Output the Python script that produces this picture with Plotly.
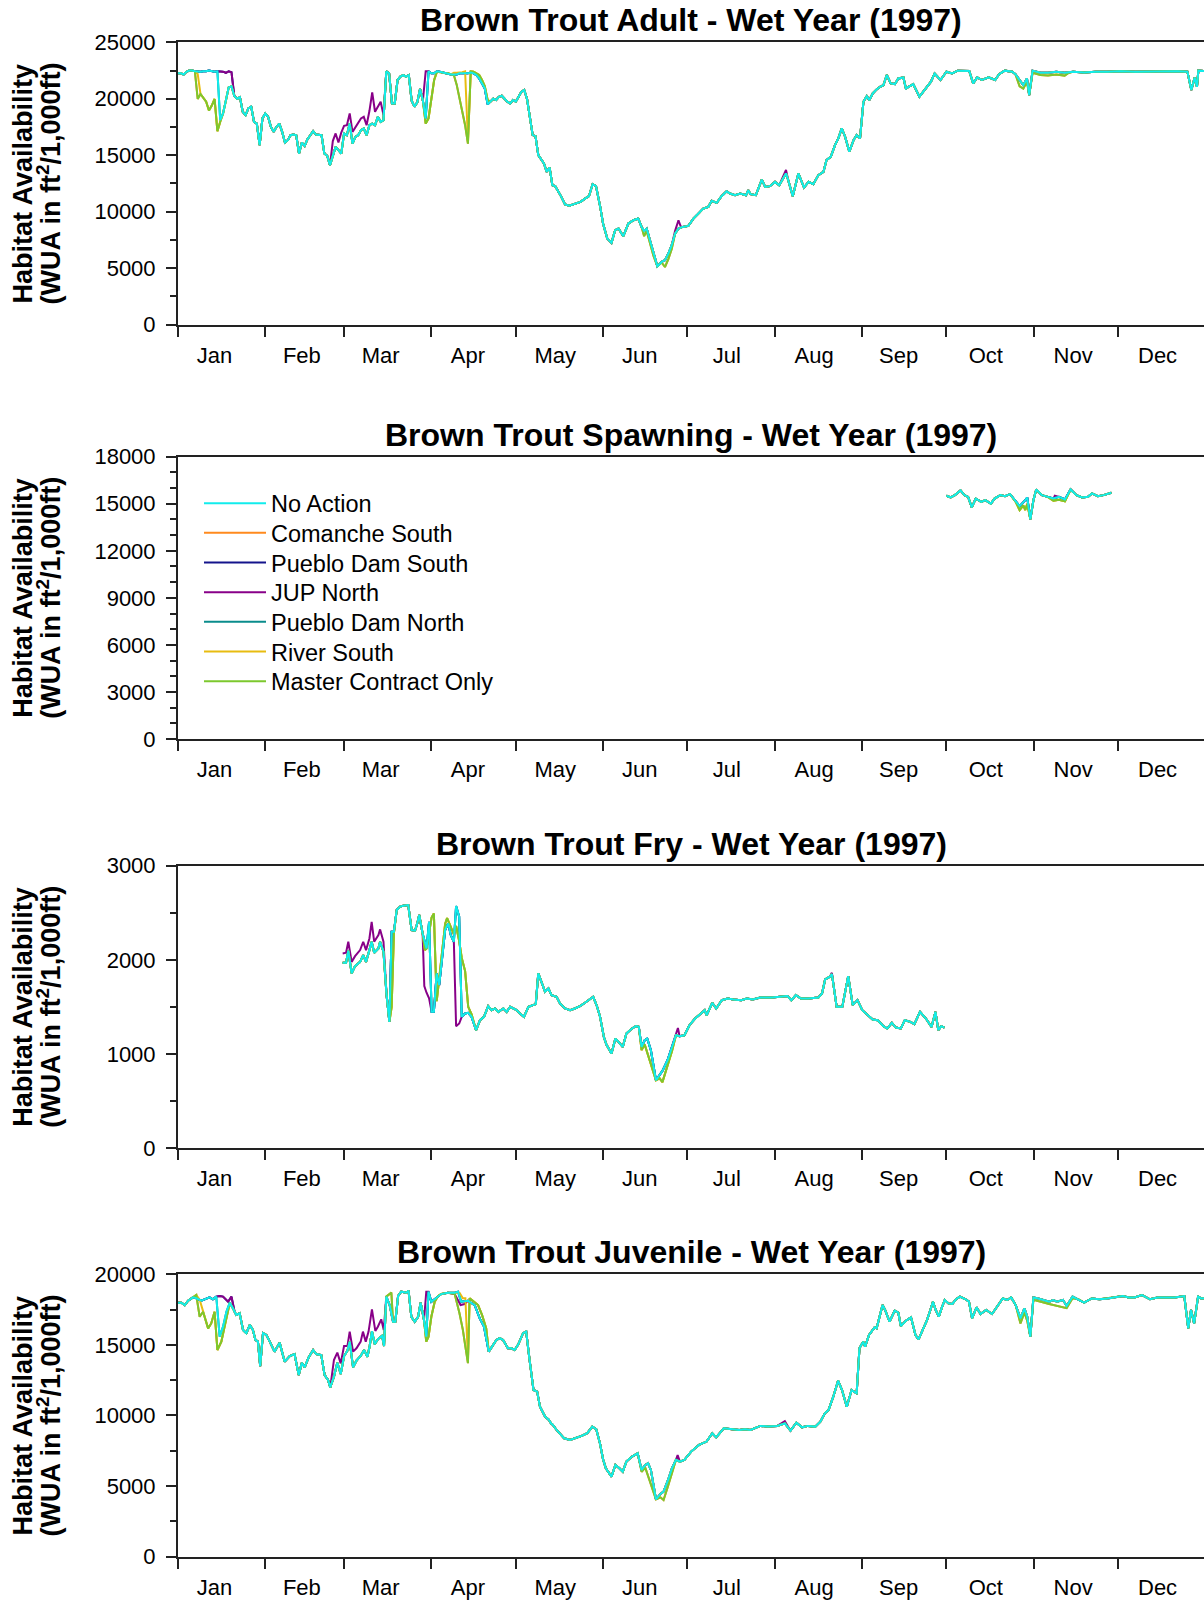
import numpy as np
import pandas as pd
import plotly.graph_objects as go
from plotly.subplots import make_subplots

# ---------------- data (day-of-year index, 0 = 1 Jan 1997) ----------------
SCENARIOS = ["No Action", "Comanche South", "Pueblo Dam South", "JUP North",
             "Pueblo Dam North", "River South", "Master Contract Only"]
COLORS = {"No Action": "#12ECEC", "Comanche South": "#FF8A1E", "Pueblo Dam South": "#14148C",
          "JUP North": "#880088", "Pueblo Dam North": "#0A8C8C", "River South": "#E8BC10",
          "Master Contract Only": "#7CC82E"}
DRAW_ORDER = ["Comanche South", "Pueblo Dam South", "JUP North", "Pueblo Dam North",
              "River South", "Master Contract Only", "No Action"]
TITLES = ["Brown Trout Adult - Wet Year (1997)", "Brown Trout Spawning - Wet Year (1997)",
          "Brown Trout Fry - Wet Year (1997)", "Brown Trout Juvenile - Wet Year (1997)"]
MONTH_LABEL_DATES = ["1997-01-14", "1997-02-14", "1997-03-14", "1997-04-14", "1997-05-15", "1997-06-14",
                     "1997-07-15", "1997-08-15", "1997-09-14", "1997-10-15", "1997-11-15", "1997-12-15"]
Y_MAX = [25000, 18000, 3000, 20000]
Y_DTICK = [5000, 3000, 1000, 5000]
Y_MINOR = [2500, 1000, 500, 2500]

# ---- Adult ----
ADULT_DAYS = [0, 1, 2, 3, 4, 5, 6, 7, 8, 9, 10, 11, 12, 13, 14, 15, 16, 17, 18, 19, 20, 21, 22, 23, 24, 25,
              26, 27, 28, 29, 30, 31, 32, 33, 34, 35, 36, 37, 38, 39, 40, 41, 42, 43, 44, 45, 46, 47, 48, 49,
              50, 51, 52, 53, 54, 55, 56, 57, 58, 59, 60, 61, 62, 63, 64, 65, 66, 67, 68, 69, 70, 71, 72, 73,
              74, 75, 76, 77, 78, 79, 80, 81, 82, 83, 84, 85, 86, 87, 88, 89, 90, 91, 92, 93, 94, 95, 96, 97,
              98, 99, 100, 101, 102, 103, 104, 105, 106, 107, 108, 109, 110, 111, 112, 113, 114, 115, 116,
              117, 118, 119, 120, 121, 122, 123, 124, 126, 127, 128, 130, 131, 132, 133, 134, 136, 137.5,
              139, 141, 143, 144.6, 146, 147.3, 148.5, 150, 151, 152.5, 154, 155.3, 156.5, 158.2, 160,
              161.8, 163.5, 164.7, 165.6, 166.5, 167.7, 168.9, 170.3, 171.8, 173, 174.2, 175.4, 176.6,
              177.8, 179.3, 181.3, 183.1, 184.9, 186.6, 188.4, 189.6, 191.4, 193.1, 194.9, 196.1, 197.9,
              199.7, 201.8, 202.6, 203.4, 205.3, 207.4, 208.6, 210.3, 212.1, 213.6, 216, 216.8, 218.4,
              220.4, 222.4, 224, 225.7, 227.5, 229.3, 230.4, 231.9, 233.4, 234.6, 235.8, 237, 238.5, 240,
              241.1, 242.3, 243.5, 244.7, 245.6, 246.8, 248.2, 249.4, 250.6, 251.8, 253.2, 254.7, 255.9,
              257.7, 258.6, 260, 261.2, 263.4, 265.4, 267.5, 268.8, 270.9, 273, 275, 277, 281.1, 282.5,
              283.9, 285.6, 288, 290.3, 291.7, 293.7, 296.4, 297.5, 300.3, 301.6, 302.4, 303.6, 306.4,
              309.1, 312, 315, 318, 322, 326, 330, 335, 340, 345, 350, 355, 358.6, 360, 361.2, 362, 362.5,
              364.5]
ADULT_NO_ACTION = [22250, 22250, 22150, 22390, 22500, 22500, 22430, 22390, 22390, 22430, 22430, 22500, 22430,
                   22390, 22430, 18110, 18700, 19830, 21000, 21100, 20250, 20000, 20130, 18850, 18550, 19150,
                   19300, 17960, 17800, 15890, 18260, 18700, 18400, 17510, 17070, 17510, 17800, 17070, 16120,
                   16330, 16770, 16830, 16770, 15150, 16120, 15830, 16420, 16770, 17130, 16830, 16770, 16770,
                   15150, 14950, 14120, 14860, 15740, 15450, 15150, 16930, 16770, 17800, 16030, 16620, 16770,
                   17210, 17360, 16770, 17660, 17800, 17660, 18400, 17960, 18110, 22430, 22250, 19590, 19590,
                   21660, 21960, 22100, 21960, 22100, 19830, 19300, 19680, 20870, 19830, 18260, 22430, 22250,
                   22250, 22430, 22390, 22330, 22250, 22250, 22150, 22150, 22150, 22250, 22250, 22250, 22250,
                   22330, 22250, 22100, 21800, 21360, 20900, 19500, 19740, 20000, 19890, 20180, 20270, 20000,
                   19740, 19590, 19890, 19740, 20180, 20620, 20770, 19980, 16780, 16690, 15010, 14280, 13530,
                   13910, 12350, 12260, 11400, 10640, 10520, 10670, 10870, 11160, 11370, 12430, 12260, 10430,
                   8950, 7620, 7240, 8360, 8510, 7830, 8950, 9240, 9390, 8650, 8300, 8510, 7470, 6290, 5170,
                   5550, 5700, 6290, 7030, 8060, 8510, 8650, 8740, 9390, 9830, 10270, 10430, 10960, 10780,
                   11370, 11810, 11610, 11460, 11610, 11460, 11900, 11550, 11460, 12840, 12190, 12260, 12640,
                   12340, 13390, 12790, 11370, 13390, 12140, 12640, 12430, 13240, 13530, 14570, 14860, 15900,
                   16490, 17380, 16640, 15320, 16340, 16780, 16490, 19730, 20230, 19880, 20470, 20830, 21060,
                   21200, 22100, 21360, 21300, 21800, 21890, 20910, 21130, 21300, 20180, 20840, 21510, 22240,
                   21660, 22390, 22240, 22490, 22460, 21360, 21890, 21660, 21890, 21660, 22170, 22490, 22390,
                   22170, 21210, 21800, 20330, 22490, 22300, 22300, 22400, 22300, 22400, 22330, 22400, 22390,
                   22430, 22400, 22430, 22400, 22430, 22400, 20770, 21890, 21060, 22490, 22450]
ADULT_MASTER = [([6, 7, 8, 9, 10, 11, 12, 13, 14, 15, 16, 17],
                 [22430, 19980, 20420, 20130, 19740, 18960, 19400, 19980, 17130, 17960, 18700, 19830]),
                ([87, 88, 89, 90, 91, 92], [19830, 17800, 18260, 20000, 21660, 22390]),
                ([98, 99, 100, 101, 102, 103, 104, 105, 106, 107, 108, 109, 110],
                 [22100, 21250, 19980, 18960, 17660, 16030, 22430, 22390, 22250, 22100, 21660, 21100, 19890]),
                ([165.6, 166.5, 167.7, 168.9, 170.3, 171.8, 173, 174.2, 175.4],
                 [7830, 8300, 7300, 6100, 5170, 5500, 5100, 5800, 6700]),
                ([299, 300.3, 301.6, 302.4, 303.6, 306.4, 309.1, 312, 315, 316.5],
                 [21100, 20900, 21500, 20330, 22300, 22100, 22050, 22150, 22050, 22300])]
ADULT_RIVER = [([6, 7, 8, 9, 10, 11, 12, 13, 14, 15, 16, 17],
                [22430, 22200, 20420, 20130, 19740, 18960, 19400, 19980, 17130, 17960, 18700, 19830]),
               ([87, 88, 89, 90, 91, 92], [19830, 17800, 18260, 20000, 21660, 22390]),
               ([98, 99, 100, 101, 102, 103, 104, 105, 106, 107, 108, 109, 110],
                [22300, 22300, 22300, 22350, 22430, 16300, 22430, 22390, 22250, 22100, 21660, 21100, 19890])]
ADULT_JUP = [([14, 15, 16, 17, 18, 19, 20], [22430, 22430, 22400, 22300, 22430, 22350, 20250]),
             ([55, 56, 57, 58, 59, 60, 61, 62, 63, 64, 65, 66, 67, 68, 69, 70, 71, 72, 73],
              [16250, 16930, 16120, 17000, 17600, 17660, 18700, 17070, 17430, 17800, 18260, 18400, 17660,
               18910, 20560, 18850, 19300, 19740, 18550]),
             ([87, 88], [19830, 22430]),
             ([176.6, 177.8, 178.6], [8300, 9240, 8700]),
             ([216], [13700])]
ADULT_PDS = [([14, 15, 16, 17, 18, 19, 20], [22430, 22430, 22400, 22300, 22430, 22350, 20250])]

# ---- Spawning ----
SPAWN_DAYS = [273, 274.5, 276, 278, 279.4, 280.7, 282, 283.4, 285.4, 286.8, 288.8, 290.1, 292.2, 293.8,
              295.6, 297.6, 299, 301, 301.7, 302.8, 303.9, 304.9, 306.9, 309, 311, 313, 315.1, 317.1,
              319.2, 321.2, 323.3, 324.7, 326.8, 328.8, 331.6]
SPAWN_NO_ACTION = [15510, 15400, 15550, 15850, 15550, 15440, 14765, 15330, 15120, 15230, 15010, 15330, 15550,
                   15480, 15610, 15120, 14850, 15230, 15400, 14000, 15230, 15910, 15550, 15440, 15330, 15440,
                   15270, 15910, 15550, 15400, 15440, 15660, 15480, 15550, 15700]
SPAWN_MASTER = [([299, 300.3, 301, 301.7], [14590, 14900, 14600, 15000]),
                ([311, 313, 315.1], [15200, 15250, 15150])]
SPAWN_JUP = [([311, 311.5, 313], [15330, 15520, 15440])]

# ---- Fry ----
FRY_DAYS = [58.5, 59.7, 60.5, 61.7, 62.9, 64.7, 65.8, 66.8, 68, 68.8, 69.7, 71.2, 71.8, 73, 74.1, 75.1, 75.9,
            76.7, 77.7, 78.9, 80, 81.8, 83, 84.2, 85, 85.7, 86.9, 88.3, 89.2, 90.1, 90.9, 91.9, 92.8, 94, 94.9,
            96, 96.9, 98, 98.8, 99.9, 100.8, 102, 103.1, 104.3, 105.9, 107.3, 108.7, 110.2, 111.4, 112.6,
            113.8, 115.6, 116.8, 118, 119.1, 120.3, 121.5, 122.9, 124.5, 126, 127.1, 128, 129.2, 130.4,
            131.6, 132.7, 134.5, 135.7, 137.5, 139.3, 141, 142.8, 144.6, 146.4, 147.5, 148.7, 149.9, 151.3,
            152.2, 154, 155.4, 156.5, 158, 159.3, 161.3, 162.7, 163.7, 164.7, 165.8, 166.7, 168, 169.8,
            171.1, 172.1, 173.9, 175.5, 176.9, 178.2, 179.9, 181.7, 183.7, 185.8, 187.1, 187.8, 189.8,
            191.2, 193.2, 195.3, 197.3, 200.1, 202.1, 204.2, 206.9, 211, 215.1, 216.5, 217.9, 219.5, 221.3,
            224, 227.5, 228.8, 229.9, 231.6, 232.3, 234, 236, 238.1, 239.7, 241.4, 243.1, 244.9, 246.8,
            248.6, 250.6, 252, 253.6, 255, 256.8, 258.2, 260.2, 261.6, 263.6, 265.7, 267.7, 269.1, 270.1,
            271.2, 272.3]
FRY_NO_ACTION = [1968, 1968, 2096, 1855, 1932, 1978, 2050, 1978, 2103, 2192, 2075, 2121, 2192, 2085, 1624,
                 1340, 2298, 2298, 2529, 2565, 2575, 2581, 2316, 2309, 2387, 2476, 2280, 2121, 2404, 1447,
                 1447, 1855, 1731, 2068, 2316, 2387, 2263, 2192, 2571, 2458, 1394, 1430, 1437, 1394, 1252,
                 1359, 1394, 1508, 1465, 1483, 1447, 1483, 1447, 1501, 1483, 1465, 1430, 1394, 1501, 1519,
                 1529, 1855, 1749, 1660, 1696, 1624, 1607, 1536, 1483, 1465, 1483, 1508, 1543, 1589, 1607,
                 1519, 1400, 1180, 1100, 1003, 1163, 1128, 1074, 1216, 1270, 1295, 1287, 1074, 1145, 1163,
                 1039, 720, 773, 819, 932, 1074, 1198, 1188, 1198, 1305, 1376, 1429, 1465, 1411, 1543, 1483,
                 1571, 1589, 1578, 1571, 1589, 1578, 1600, 1600, 1607, 1614, 1571, 1625, 1589, 1589, 1600,
                 1642, 1791, 1820, 1848, 1500, 1500, 1827, 1518, 1571, 1465, 1411, 1365, 1358, 1295, 1270,
                 1330, 1280, 1270, 1358, 1340, 1316, 1447, 1376, 1287, 1447, 1252, 1295, 1280]
FRY_MASTER = [([75.1, 75.9, 76.7], [1340, 1500, 2280]),
              ([86.9, 87.7, 88.3, 89.2, 90.1, 90.9, 91.9, 92.8, 94, 94.9, 95.6, 96.9, 98, 98.8, 99.9, 100.8,
                102, 103.1, 104.3, 105.9],
               [2280, 2103, 2120, 2300, 2450, 2493, 1560, 1800, 2100, 2380, 2444, 2340, 2270, 2360, 2200,
                2020, 1880, 1500, 1420, 1252]),
              ([164.7, 165.8, 169.8, 171.1, 172.1, 173.9, 175.5], [1040, 1100, 720, 740, 700, 880, 1030])]
FRY_JUP = [([58.5, 59.7, 60.5, 61.7, 62.9, 64.7, 65.8, 66.8, 68, 68.8, 69.7, 71.2, 71.8, 73, 74.1],
            [2068, 2075, 2192, 1978, 2039, 2103, 2192, 2103, 2227, 2404, 2192, 2263, 2323, 2192, 1624]),
           ([86.9, 87.5, 88.3, 89.2, 90.1], [2280, 1720, 1650, 1590, 1447]),
           ([98, 98.8, 99.9, 100.8], [2192, 1295, 1323, 1394]),
           ([176.9, 177.6, 178.2], [1198, 1275, 1188]),
           ([232.3], [1862])]

# ---- Juvenile ----
JUV_DAYS = [0, 1.2, 2.4, 3.6, 5.3, 6.5, 8.3, 10, 11.2, 12.4, 13.6, 14.8, 16, 17.2, 18.4, 19.5, 20.7, 21.9,
            23.1, 24.3, 25.5, 26.6, 27.5, 28.4, 29.2, 30.2, 31.4, 32.6, 34.3, 36.1, 37.9, 39.7, 41.4, 42.9,
            44, 45, 46.4, 48, 49.1, 50.9, 52.1, 53.3, 54.1, 55.4, 56.6, 57.8, 59, 60.2, 61, 62.2, 63.4, 64.9,
            66.1, 67.3, 68.1, 68.9, 69.9, 71, 72.5, 73.2, 74, 75.2, 76.4, 77.2, 78.2, 79.3, 81.1, 81.9, 82.9,
            84.1, 85.3, 86.2, 87.4, 88.2, 89, 90, 91.8, 93.5, 95.9, 98.3, 99.5, 100.6, 103, 105.4, 107.2,
            108.7, 110.4, 111.9, 113.1, 114.3, 115.5, 117.2, 118.4, 119.6, 120.8, 122.6, 123.7, 124.9, 126.3,
            127.6, 128.6, 130.4, 131.8, 132.5, 133.2, 134.5, 137.2, 139.3, 141.3, 143.4, 145.4, 147.2,
            148.6, 149.9, 151, 152, 154, 155.4, 156.8, 158, 159.3, 161.3, 163.3, 164.7, 166, 167, 168,
            169.8, 171.4, 172.5, 174.1, 175.5, 176.9, 178.3, 179.9, 182.3, 185.1, 187.8, 189.8, 191.2,
            193.9, 196.6, 199.4, 201.4, 203.4, 206.9, 209.6, 212.9, 215.6, 217.6, 219.7, 221.7, 223.8,
            226.4, 228.2, 229.8, 231.1, 232.8, 234.5, 235.9, 237.6, 239.3, 240.6, 241.1, 242.1, 243.4,
            244.1, 245.5, 247.5, 248.2, 250.3, 251.2, 252.8, 254.6, 255.9, 256.8, 258.6, 260.4, 262, 263.1,
            264.8, 266.1, 267.2, 268.2, 269.2, 270.3, 271.4, 272.4, 273.7, 275.1, 276.4, 277.8, 279.8, 281,
            282.1, 283.7, 285.1, 287.1, 289.2, 291.2, 293, 294.6, 296, 297.6, 299.3, 300.7, 301.7, 302.8,
            303.9, 305.6, 307.5, 309.5, 310.9, 312.3, 314.4, 315.7, 317.8, 319.9, 321.9, 324.6, 327.4,
            330.2, 332.9, 335.7, 337.7, 339.8, 342.5, 345.3, 348, 350.7, 354.1, 357.5, 358.9, 359.9, 361,
            362.4, 363.5, 364.5]
JUV_NO_ACTION = [17990, 17990, 17820, 18130, 18370, 18300, 18130, 18300, 18370, 18230, 18420, 15580, 16290,
                 17350, 17990, 17590, 17120, 17240, 16060, 15830, 16420, 16060, 15350, 15230, 13500, 15830,
                 15700, 15230, 14520, 15160, 13810, 14210, 14350, 12860, 13740, 13410, 14110, 14640, 14350,
                 14280, 12860, 12510, 11990, 12740, 13740, 12930, 14210, 14590, 15230, 13410, 13880, 14210,
                 14640, 14160, 14920, 15960, 15040, 15400, 15640, 14920, 18420, 17820, 16640, 16640, 18470,
                 18770, 18700, 18840, 16990, 16640, 16990, 17990, 16760, 15580, 18770, 18060, 18370, 18600,
                 18700, 18700, 18770, 18060, 18130, 17820, 16880, 16290, 14520, 15000, 15350, 15470, 15350,
                 14760, 14760, 14640, 15000, 15830, 15940, 13930, 11800, 11690, 10620, 9920, 9680, 9440, 9330,
                 8970, 8380, 8260, 8380, 8550, 8740, 9210, 9020, 8030, 6900, 6260, 5670, 6490, 6260, 6020,
                 6730, 7090, 7320, 6140, 6490, 6610, 6140, 4060, 4440, 4610, 5430, 6260, 6850, 6730, 6850,
                 7440, 7910, 8150, 8740, 8450, 9090, 9020, 8970, 9020, 8970, 9260, 9210, 9260, 9440, 8920,
                 9490, 9160, 9260, 9210, 9560, 10150, 10380, 11330, 12460, 11800, 10620, 11800, 11610, 11570,
                 14760, 15230, 14880, 15700, 16240, 16170, 17820, 17470, 16650, 17420, 17280, 16340, 16710,
                 16950, 15700, 15390, 16170, 16760, 17420, 18060, 17470, 17000, 17660, 18180, 17940, 17900,
                 18230, 18420, 18230, 18060, 16880, 17660, 17190, 17470, 17190, 17820, 18290, 18180, 18360,
                 17820, 16880, 17590, 17000, 15580, 18360, 18290, 18180, 18060, 18180, 18060, 18180, 17760,
                 18420, 18230, 18000, 18290, 18230, 18290, 18360, 18460, 18360, 18360, 18530, 18230, 18360,
                 18360, 18360, 18460, 16170, 17470, 16520, 18420, 18290, 18300]
JUV_MASTER = [([5.3, 6.5, 7.7, 8.9, 10.7, 11.8, 13, 14, 15.4, 16.5, 17.8],
               [18370, 18530, 16990, 17350, 16170, 16520, 17350, 14640, 15230, 16300, 17600]),
              ([74, 75.8, 76.4], [18420, 18700, 16640]),
              ([87.4, 88.2, 89, 90, 91.2, 92.4, 93.5], [16760, 15230, 15580, 16990, 18060, 18470, 18600]),
              ([98.3, 100, 101.2, 102.1, 103, 103.6, 104.8, 106.6, 108, 109.5, 110.4],
               [18600, 17240, 16060, 14880, 13700, 18300, 18130, 17820, 17120, 16170, 14520]),
              ([164.7, 166, 169.8, 171.4, 172.5, 174.1, 175.5], [6000, 6300, 4060, 4200, 4010, 5000, 6000]),
              ([297.6, 299.3, 300.7, 301.7, 302.8, 303.9, 309.5, 312.3, 315.7, 317.8],
               [17820, 16520, 17300, 16700, 15580, 18200, 17900, 17760, 17600, 18300])]
JUV_RIVER = [([5.3, 6.5, 7.7, 8.9, 10.7, 11.8, 13, 14, 15.4, 16.5, 17.8],
              [18370, 18530, 18200, 17350, 16170, 16520, 17350, 14640, 15230, 16300, 17600]),
             ([87.4, 88.2, 89, 90, 91.2, 92.4, 93.5], [16760, 15230, 15580, 16990, 18060, 18470, 18600]),
             ([98.3, 100, 101.2, 102.1, 103, 103.6, 104.8, 106.6, 108, 109.5, 110.4],
              [18700, 18700, 18300, 18300, 14000, 18300, 18130, 17820, 17120, 16170, 14520])]
JUV_JUP = [([13.6, 14.8, 16, 17.8, 19, 20.1, 20.7], [18420, 18460, 18420, 18060, 18420, 17350, 17120]),
           ([54.1, 55.4, 56.6, 57.8, 59, 60.2, 61, 62.2, 63.4, 64.9, 65.7, 66.7, 67.7, 68.9, 70.1, 71, 72.2,
             73.1, 74],
            [11990, 13930, 14450, 13690, 14920, 14920, 15940, 14520, 14760, 15230, 15940, 15230, 15940,
             17520, 15990, 16290, 16810, 16060, 18420]),
           ([87.4, 88.2, 89], [16760, 18770, 18770]),
           ([98.3, 100.4, 101.8, 103], [18600, 17820, 17890, 18130]),
           ([176.9, 177.5, 178.3], [6850, 7200, 6730]),
           ([215.6], [9600])]
JUV_PDS = [([13.6, 14.8, 16, 17.8, 19, 20.1, 20.7], [18420, 18460, 18420, 18060, 18420, 17350, 17120])]

PANELS = [
    (ADULT_DAYS, ADULT_NO_ACTION, {"Comanche South": ADULT_MASTER, "Pueblo Dam South": ADULT_PDS,
                                   "JUP North": ADULT_JUP, "River South": ADULT_RIVER,
                                   "Master Contract Only": ADULT_MASTER}),
    (SPAWN_DAYS, SPAWN_NO_ACTION, {"Comanche South": SPAWN_MASTER, "JUP North": SPAWN_JUP,
                                   "River South": SPAWN_MASTER, "Master Contract Only": SPAWN_MASTER}),
    (FRY_DAYS, FRY_NO_ACTION, {"Comanche South": FRY_MASTER, "JUP North": FRY_JUP,
                               "River South": FRY_MASTER, "Master Contract Only": FRY_MASTER}),
    (JUV_DAYS, JUV_NO_ACTION, {"Comanche South": JUV_MASTER, "Pueblo Dam South": JUV_PDS,
                               "JUP North": JUV_JUP, "River South": JUV_RIVER,
                               "Master Contract Only": JUV_MASTER}),
]


def build_series(base_days, base_vals, segments):
    pts = dict(zip(base_days, base_vals))
    for sd, sv in segments:
        lo, hi = min(sd), max(sd)
        pts = {d: v for d, v in pts.items() if not (lo <= d <= hi)}
        pts.update(dict(zip(sd, sv)))
    days = sorted(pts)
    return days, [pts[d] for d in days]


START = pd.Timestamp("1997-01-01")


def to_dates(days):
    return START + pd.to_timedelta(np.array(days, dtype=float), unit="D")


# ---------------- figure ----------------
W, H = 1204, 1604
ML, MR, MT, MB = 178, 0, 42, 47
PH = H - MT - MB
PW = W - ML - MR
PLOT_TOP = [42.3, 456.7, 865.7, 1274.3]
PLOT_H = 282.3
FONT = "Liberation Sans, Arial, sans-serif"
LEGEND_FONT = 23.5
LEGEND_ROW_CENTERS = [503.3, 532.9, 562.6, 592.3, 621.9, 651.6, 681.3]
LEGEND_IDS = ["legend"] + ["legend%d" % k for k in range(2, 8)]

fig = make_subplots(rows=4, cols=1)

for i, (bd, bv, devs) in enumerate(PANELS):
    for name in DRAW_ORDER:
        d, v = build_series(bd, bv, devs.get(name, []))
        fig.add_trace(go.Scatter(
            x=to_dates(d), y=v, mode="lines", name=name,
            line=dict(color=COLORS[name], width=2),
            legend=LEGEND_IDS[SCENARIOS.index(name)],
            showlegend=(i == 1), hoverinfo="skip"), row=i + 1, col=1)

annotations = []
for i in range(4):
    top = PLOT_TOP[i]
    bot = top + PLOT_H
    dom = [(H - MB - bot) / PH, (H - MB - top) / PH]
    ax = "" if i == 0 else str(i + 1)
    fig.layout["yaxis" + ax].update(
        domain=dom, range=[0, Y_MAX[i]], dtick=Y_DTICK[i], tick0=0, tickformat="d",
        ticks="outside", ticklen=10, tickwidth=1.5, tickcolor="#222",
        minor=dict(dtick=Y_MINOR[i], ticks="outside", ticklen=6, tickwidth=1.5, tickcolor="#222"),
        showline=True, linecolor="#222", linewidth=2, showgrid=False, zeroline=False,
        tickfont=dict(family=FONT, size=22, color="#000"), ticklabelstandoff=6, fixedrange=True)
    fig.layout["xaxis" + ax].update(
        type="date", range=["1997-01-01", "1997-12-31 12:00"],
        tickvals=MONTH_LABEL_DATES, tickformat="%b", ticks="outside", ticklen=0,
        minor=dict(dtick="M1", tick0="1997-01-01", ticks="outside", ticklen=10, tickwidth=1.5,
                   tickcolor="#222", showgrid=False),
        showline=True, linecolor="#222", linewidth=2, mirror=True,
        showgrid=False, zeroline=False, ticklabelstandoff=10,
        tickfont=dict(family=FONT, size=22, color="#000"), fixedrange=True)
    xd = ("x" if i == 0 else "x" + str(i + 1)) + " domain"
    yd = ("y" if i == 0 else "y" + str(i + 1)) + " domain"
    annotations.append(dict(text="<b>" + TITLES[i] + "</b>", xref=xd, x=0.5, yref=yd, y=1,
                            yshift=22, xanchor="center", yanchor="middle", showarrow=False,
                            font=dict(family=FONT, size=32, color="#000")))
    annotations.append(dict(text="<b>Habitat Availability</b>", xref="paper", x=(23 - ML) / PW,
                            yref=yd, y=0.5, textangle=-90, xanchor="center", yanchor="middle",
                            showarrow=False, font=dict(family=FONT, size=27, color="#000")))
    annotations.append(dict(text="<b>(WUA in ft<sup>2</sup>/1,000ft)</b>", xref="paper",
                            x=(49 - ML) / PW, yref=yd, y=0.5, textangle=-90,
                            xanchor="center", yanchor="middle", showarrow=False,
                            font=dict(family=FONT, size=27, color="#000")))

legend_layout = {}
item_half = (LEGEND_FONT * 1.3 + 3) / 2 + 5.1
for lid, cy in zip(LEGEND_IDS, LEGEND_ROW_CENTERS):
    legend_layout[lid] = dict(x=(199 - ML) / PW, y=(H - MB - (cy - item_half)) / PH,
                              xanchor="left", yanchor="top", bgcolor="rgba(0,0,0,0)",
                              font=dict(family=FONT, size=LEGEND_FONT, color="#000"), itemwidth=62)

fig.update_layout(
    width=W, height=H, margin=dict(l=ML, r=MR, t=MT, b=MB),
    paper_bgcolor="white", plot_bgcolor="white",
    annotations=annotations,
    font=dict(family=FONT),
    **legend_layout,
)

fig.write_html("out.html", config={"displayModeBar": False},
               post_script="document.body.style.margin='0';document.body.style.overflow='hidden';")
